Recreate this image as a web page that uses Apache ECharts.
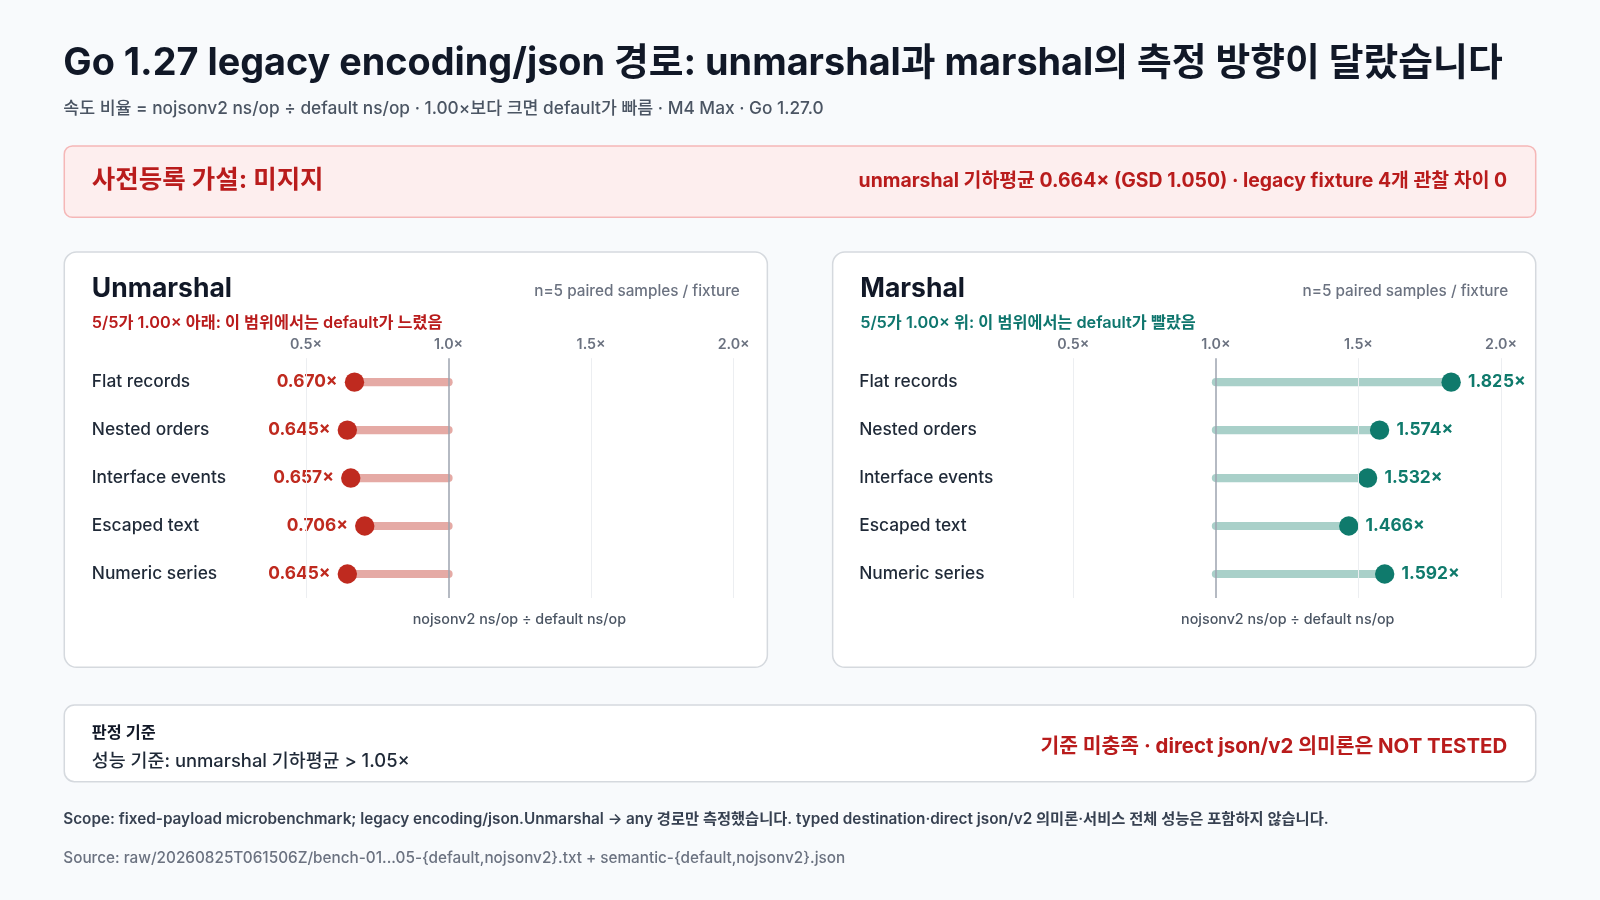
<!DOCTYPE html>
<html><head><meta charset="utf-8">
<script src="https://cdn.jsdelivr.net/npm/echarts@6/dist/echarts.min.js"></script>
<style>html,body{margin:0;background:#f8fafc}#c{width:1600px;height:900px}</style>
</head><body><div id="c"></div>
<script>
const categories=['Flat records','Nested orders','Interface events','Escaped text','Numeric series'];
const unmarshal=[0.670,0.645,0.657,0.706,0.645];
const marshal=[1.825,1.574,1.532,1.466,1.592];
const ticks=[0.5,1.0,1.5,2.0];
const F='Inter, "Noto Sans CJK KR", sans-serif';
const RED='#b91c1c', TEAL='#0f766e';
const S=1600/1568;
const s=v=>v*S;
const chart=echarts.init(document.getElementById('c'));
function txt(x,y,t,size,color,weight,align){return {type:'text',x:s(x),y:s(y),style:{text:t,font:(weight||'normal')+' '+s(size).toFixed(1)+'px '+F,fill:color,textAlign:align||'left',textVerticalAlign:'middle'}};}
function rect(x,y,w,h,r,fill,stroke){return {type:'rect',shape:{x:s(x),y:s(y),width:s(w),height:s(h),r:s(r)},style:{fill:fill,stroke:stroke,lineWidth:1.5},z:-1};}
function marks(){return {symbol:'none',silent:true,data:ticks.map(v=>({xAxis:v,lineStyle:{color:v===1?'#9ca3af':'#eceef1',width:v===1?1.5:1,type:'solid'},label:{show:true,position:'start',formatter:v.toFixed(1)+'×',color:'#6b7280',fontSize:s(14),fontWeight:600,fontFamily:F,distance:s(6)}}))};}
function stick(gi,data,color){return {type:'custom',xAxisIndex:gi,yAxisIndex:gi,data:data.map((v,i)=>[v,i]),
 renderItem:(p,api)=>{const a=api.coord([1,api.value(1)]),b=api.coord([api.value(0),api.value(1)]);
 return {type:'line',shape:{x1:a[0],y1:a[1],x2:b[0],y2:b[1]},style:{stroke:color,lineWidth:s(8),lineCap:'round'}};},
 markLine:marks(),z:2};}
function dots(gi,data,color,pos){return {type:'scatter',xAxisIndex:gi,yAxisIndex:gi,data:data.map((v,i)=>[v,i]),symbolSize:s(19),itemStyle:{color:color,opacity:1},
 label:{show:true,position:pos,distance:s(7),formatter:p=>p.value[0].toFixed(3)+'×',color:color,fontSize:s(17),fontWeight:'bold',fontFamily:F},z:3};}
function yax(gi){return {type:'category',gridIndex:gi,data:categories,inverse:true,axisLine:{show:false},axisTick:{show:false},
 axisLabel:{align:'left',margin:s(154),color:'#1f2937',fontSize:s(17),fontFamily:F,fontWeight:500}};}
function xax(gi){return {type:'value',gridIndex:gi,min:0.3,max:2.0,axisLabel:{show:false},splitLine:{show:false},axisLine:{show:false},axisTick:{show:false}};}
chart.setOption({
 backgroundColor:'#f8fafc',animation:false,
 grid:[{left:s(244),width:s(475),top:s(351),height:s(235)},{left:s(996),width:s(475),top:s(351),height:s(235)}],
 xAxis:[xax(0),xax(1)],yAxis:[yax(0),yax(1)],
 series:[stick(0,unmarshal,'#e5aaa5'),dots(0,unmarshal,'#bf2a1f','left'),stick(1,marshal,'#a9d0c9'),dots(1,marshal,'#0f7a6c','right')],
 graphic:[
  rect(63,143,1442,70,8,'#fdeeee','#f5b7b7'),
  rect(63,247,689,407,12,'#fff','#d5d9de'),
  rect(816,247,689,407,12,'#fff','#d5d9de'),
  rect(63,691,1442,75,10,'#fff','#d5d9de'),
  txt(62,62,'Go 1.27 legacy encoding/json 경로: unmarshal과 marshal의 측정 방향이 달랐습니다',37,'#111827','bold'),
  txt(62,107,'속도 비율 = nojsonv2 ns/op ÷ default ns/op · 1.00×보다 크면 default가 빠름 · M4 Max · Go 1.27.0',17,'#4b5563','500'),
  txt(90,177,'사전등록 가설: 미지지',25,RED,'bold'),
  txt(1477,178,'unmarshal 기하평균 0.664× (GSD 1.050) · legacy fixture 4개 관찰 차이 0',19,RED,'bold','right'),
  txt(90,283,'Unmarshal',26,'#111827','bold'),
  txt(725,286,'n=5 paired samples / fixture',15,'#6b7280','500','right'),
  txt(90,317,'5/5가 1.00× 아래: 이 범위에서는 default가 느렸음',16,RED,'600'),
  txt(509,607,'nojsonv2 ns/op ÷ default ns/op',14,'#4b5563','500','center'),
  txt(843,283,'Marshal',26,'#111827','bold'),
  txt(1478,286,'n=5 paired samples / fixture',15,'#6b7280','500','right'),
  txt(843,317,'5/5가 1.00× 위: 이 범위에서는 default가 빨랐음',16,TEAL,'600'),
  txt(1262,607,'nojsonv2 ns/op ÷ default ns/op',14,'#4b5563','500','center'),
  txt(90,718,'판정 기준',16,'#111827','bold'),
  txt(90,746,'성능 기준: unmarshal 기하평균 > 1.05×',18,'#1f2937','500'),
  txt(1477,732,'기준 미충족 · direct json/v2 의미론은 NOT TESTED',20,RED,'bold','right'),
  txt(62,803,'Scope: fixed-payload microbenchmark; legacy encoding/json.Unmarshal → any 경로만 측정했습니다. typed destination·direct json/v2 의미론·서비스 전체 성능은 포함하지 않습니다.',15,'#374151','600'),
  txt(62,841,'Source: raw/20260825T061506Z/bench-01...05-{default,nojsonv2}.txt + semantic-{default,nojsonv2}.json',15,'#6b7280','500')
 ]
});
</script></body></html>
